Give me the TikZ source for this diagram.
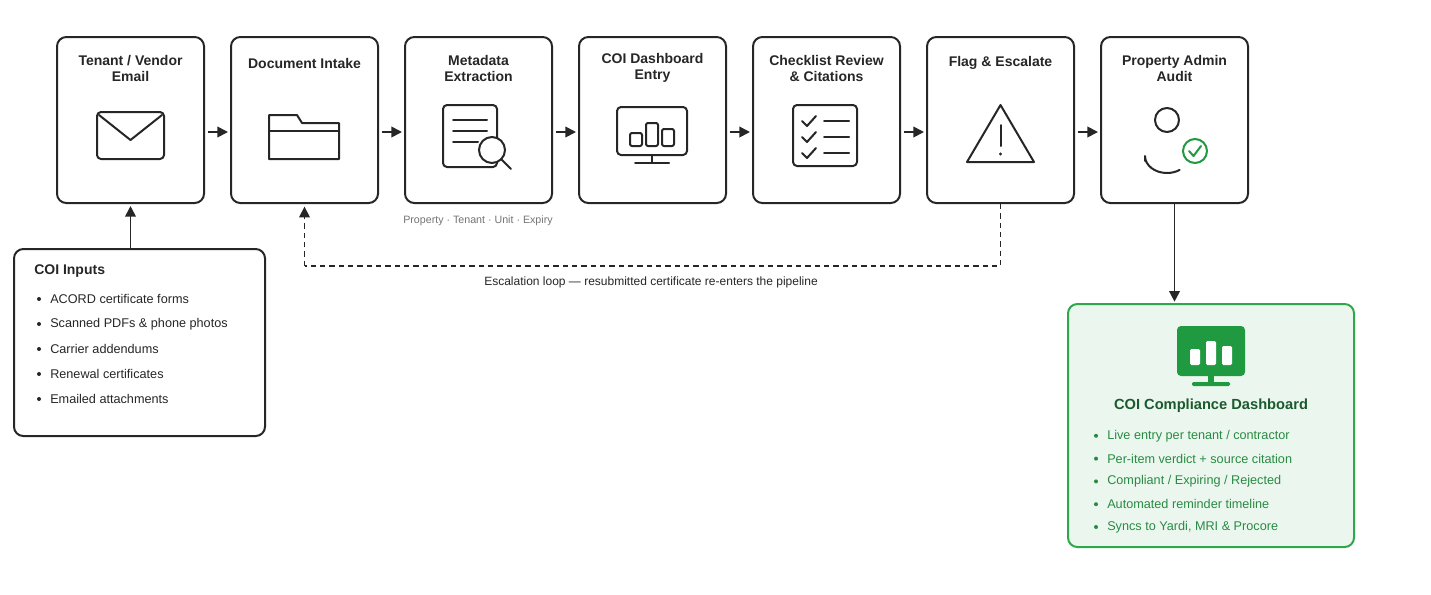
\documentclass[tikz,border=0pt]{standalone}
\usepackage{fontspec}
\setmainfont{Liberation Sans}
\usetikzlibrary{arrows.meta}
\definecolor{ink}{HTML}{262626}
\definecolor{gborder}{HTML}{2EA84A}
\definecolor{gfill}{HTML}{EBF7EE}
\definecolor{gdark}{HTML}{1B5A2E}
\definecolor{gtext}{HTML}{2A8A44}
\definecolor{gicon}{HTML}{1F9A40}
\begin{document}
\begin{tikzpicture}[x=0.75pt,y=-0.75pt,
  stage/.style={draw=ink,line width=1.5pt,rounded corners=7pt,minimum width=110.25pt,minimum height=124.5pt,inner sep=0pt},
  ttl/.style={font=\bfseries\fontsize{10.5}{12}\selectfont,text=ink,align=center},
  ico/.style={draw=ink,line width=1.5pt,line cap=round,line join=round},
  arr/.style={-{Triangle[length=8pt,width=8pt]},line width=1.3pt,draw=ink},
  bl/.style={font=\fontsize{9.5}{11}\selectfont,text=ink,anchor=west,inner sep=0pt}]
\useasboundingbox (0,0) rectangle (1431,594);
\foreach \n/\x in {s1/130.5,s2/304.5,s3/478.5,s4/652.5,s5/826.5,s6/1000.5,s7/1174.5}
  \node[stage] (\n) at (\x,120) {};
\node[ttl] at (130.5,68) {Tenant / Vendor\\Email};
\node[ttl] at (304.5,63) {Document Intake};
\node[ttl] at (478.5,68) {Metadata\\Extraction};
\node[ttl] at (652.5,68) {COI Dashboard\\Entry};
\node[ttl] at (826.5,68) {Checklist Review\\\& Citations};
\node[ttl] at (1000.5,63) {Flag \& Escalate};
\node[ttl] at (1174.5,68) {Property Admin\\Audit};
\foreach \a/\b in {s1/s2,s2/s3,s3/s4,s4/s5,s5/s6,s6/s7}
  \draw[arr] ([xshift=2pt,yshift=-9pt]\a.east) -- ([xshift=-1.5pt,yshift=-9pt]\b.west);
% envelope
\draw[ico,rounded corners=3pt] (97,112) rectangle (164,159);
\draw[ico] (99,115) -- (130.5,140) -- (162,115);
% folder
\draw[ico] (269,159) -- (269,115) -- (297,115) -- (302,123) -- (339,123) -- (339,159) -- cycle;
\draw[ico] (269,131) -- (339,131);
% metadata
\draw[ico,rounded corners=3pt] (443,105) rectangle (497,167);
\draw[ico] (453,120)--(487,120) (453,131)--(487,131) (453,142)--(478,142);
\draw[ico,fill=white] (492,150) circle (13);
\draw[ico] (501,159) -- (511,169);
% monitor
\draw[ico,rounded corners=3pt] (617,107) rectangle (687,155);
\draw[ico] (652,155)--(652,163) (635,163)--(669,163);
\draw[ico,rounded corners=1.5pt] (630,133) rectangle (642,146);
\draw[ico,rounded corners=1.5pt] (646,123) rectangle (658,146);
\draw[ico,rounded corners=1.5pt] (662,129) rectangle (674,146);
% checklist
\draw[ico,rounded corners=3pt] (793,105) rectangle (857,166);
\foreach \y in {121,137,153}{
  \draw[ico] (802,\y) -- (807,\y+5) -- (816,\y-5);
  \draw[ico] (824,\y) -- (849,\y);}
% warning
\draw[ico] (1000.5,105) -- (1034,162) -- (967,162) -- cycle;
\draw[ico] (1000.5,125) -- (1000.5,146);
\fill[ink] (1000.5,154) circle (1.6);
% person
\draw[ico] (1167,120) circle (12);
\draw[ico] (1145,161) -- (1145,156) arc[start angle=180,end angle=55,x radius=22,y radius=17];
\draw[gicon,line width=1.5pt,fill=white] (1195,151) circle (12);
\draw[gicon,line width=1.5pt,line cap=round,line join=round] (1189,151) -- (1193.5,156) -- (1201,146);
% extraction note
\node[font=\fontsize{8}{10}\selectfont,text=black!55] at (478,221) {Property · Tenant · Unit · Expiry};
% inputs
\node[draw=ink,line width=1.5pt,rounded corners=7pt,minimum width=188.25pt,minimum height=140.25pt,inner sep=0pt] (inp) at (139.5,342.5) {};
\node[font=\bfseries\fontsize{10.5}{12}\selectfont,text=ink,anchor=west,inner sep=0pt] at (34,271) {COI Inputs};
\foreach \t [count=\i] in {ACORD certificate forms,Scanned PDFs \& phone photos,Carrier addendums,Renewal certificates,Emailed attachments}{
  \fill[ink] (39,274+25*\i) circle (2);
  \node[bl] at (50,274+25*\i) {\t};}
\draw[arr] (inp.north -| s1.south) ++(0,0) -- ([yshift=-1.5pt]s1.south);
% escalation loop
\coordinate (l1) at (1000.5,266);
\coordinate (l2) at (304.5,266);
\draw[ink,line width=1.1pt,dash pattern=on 4pt off 3pt] (s6.south) -- (l1) -- (l2);
\draw[arr,dash pattern=on 4pt off 3pt,line width=1.1pt] (l2) -- ([yshift=-2pt]s2.south);
\node[font=\fontsize{9}{11}\selectfont,text=ink] at (651,282) {Escalation loop — resubmitted certificate re-enters the pipeline};
% dashboard
\node[draw=gborder,fill=gfill,line width=1.5pt,rounded corners=7pt,minimum width=214.5pt,minimum height=182.25pt,inner sep=0pt] (dash) at (1211,425.5) {};
\draw[arr] (s7.south) -- ([yshift=1pt]dash.north -| s7.south);
\fill[gicon,rounded corners=3pt] (1177,326) rectangle (1245,376);
\fill[gicon] (1208,376) rectangle (1214,382);
\fill[gicon,rounded corners=1pt] (1192,382) rectangle (1230,386);
\fill[white,rounded corners=1pt] (1190,349) rectangle (1200,365);
\fill[white,rounded corners=1pt] (1206,341) rectangle (1216,365);
\fill[white,rounded corners=1pt] (1222,346) rectangle (1232,365);
\node[font=\bfseries\fontsize{11}{13}\selectfont,text=gdark] at (1211,406) {COI Compliance Dashboard};
\foreach \t [count=\i] in {Live entry per tenant / contractor,Per-item verdict + source citation,Compliant / Expiring / Rejected,Automated reminder timeline,{Syncs to Yardi, MRI \& Procore}}{
  \fill[gtext] (1096,413+22.8*\i) circle (2);
  \node[bl,text=gtext] at (1107,413+22.8*\i) {\t};}
\end{tikzpicture}
\end{document}
